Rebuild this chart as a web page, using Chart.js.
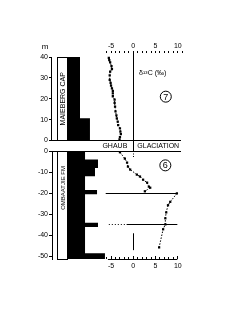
<!DOCTYPE html>
<html><head><meta charset="utf-8">
<script src="https://cdn.jsdelivr.net/npm/chart.js@4"></script>
<style>
html,body{margin:0;padding:0;background:#fff;width:240px;height:320px;overflow:hidden}
canvas{position:absolute;left:0;top:0}
</style></head><body>
<canvas id="up" width="240" height="320"></canvas>
<canvas id="lo" width="240" height="320"></canvas>
<script>
// ---------- DATA ----------
// Upper section (cap carbonate), depth in m, delta13C in permil
const upperDepth = [39.6, 38.5, 37.4, 35.6, 34.2, 33.0, 31.2, 29.0, 27.6, 26.3, 25.0, 23.8, 22.6, 21.2, 19.6, 18.0, 16.2, 14.0, 12.0, 10.6, 9.0, 7.4, 5.8, 4.3, 3.0, 1.6, 0.5];
const upperD13C  = [-5.5, -5.4, -5.2, -4.9, -4.8, -5.2, -5.3, -5.3, -5.1, -5.0, -4.8, -4.6, -4.6, -4.6, -4.2, -4.2, -4.1, -4.0, -3.8, -3.7, -3.5, -3.4, -3.0, -2.9, -2.8, -3.0, -3.1];
// Lower section (pre-glacial), two segments separated by a boundary
const lowerDepthA = [-0.6, -3.6, -5.5, -7.4, -8.8, -11.2, -12.1, -13.6, -15.0, -16.9, -17.4, -19.1];
const lowerD13CA  = [-3.0, -1.9, -1.4, -1.2, -0.7, 0.8, 1.5, 2.2, 3.1, 3.5, 3.8, 2.6];
const lowerDepthB = [-20.1, -24.1, -25.7, -29.1, -31.9, -34.8, -37.1, -45.7];
const lowerD13CB  = [9.8, 8.3, 7.8, 7.4, 7.2, 7.2, 6.7, 5.8];
// Lithology column: interval top, base, relative width
const upperLithTop   = [40, 10.6];
const upperLithBase  = [10.6, 0];
const upperLithWidth = [1.0, 1.83];
const lowerLithTop   = [0, -4, -8, -12, -18.5, -20.5, -34, -36, -48.5];
const lowerLithBase  = [-4, -8, -12, -18.5, -20.5, -34, -36, -48.5, -51.2];
const lowerLithWidth = [1.42, 2.5, 2.25, 1.42, 2.42, 1.42, 2.5, 1.42, 3.08];
// Axis ticks and labels
const upperDepthTicks = [0, 10, 20, 30, 40];
const lowerDepthTicks = [0, -10, -20, -30, -40, -50];
const d13cTickLabels = [-5, 0, 5, 10];
const d13cMinorTicks = [-6, -5, -4, -3, -2, -1, 0, 1, 2, 3, 4, 5, 6, 7, 8, 9, 10];
const boundaries = [-20, -35];
const formationNames = ['MAIEBERG CAP', 'OMBAATJIE FM'];
const bandLabels = ['GHAUB', 'GLACIATION'];
const sequenceLabels = ['7', '6'];
const depthUnit = 'm';
const isotopeLabel = 'δ¹³C (‰)';

// ---------- SETUP ----------
Chart.defaults.font.family = "'Liberation Sans', Arial, sans-serif";
Chart.defaults.font.size = 7;
Chart.defaults.color = '#000';
Chart.defaults.animation = false;
Chart.defaults.responsive = false;
Chart.defaults.devicePixelRatio = 1;
Chart.defaults.plugins.legend.display = false;
Chart.defaults.plugins.tooltip.enabled = false;

const X_MIN = -18.27, X_MAX = 10.72;     // delta13C scale range
const L_MIN = -1.333, L_MAX = 9.417;     // lithology width scale range

function pts(xs, ys) { return xs.map((v, i) => ({x: v, y: ys[i]})); }
function lithPolygon(tops, bases, widths) {
  const p = [{x: 0, y: tops[0]}];
  for (let i = 0; i < tops.length; i++) { p.push({x: widths[i], y: tops[i]}); p.push({x: widths[i], y: bases[i]}); }
  p.push({x: 0, y: bases[bases.length - 1]});
  return p;
}
function hline(ctx, y, x0, x1) { const yy = Math.floor(y) + 0.5; ctx.beginPath(); ctx.moveTo(x0, yy); ctx.lineTo(x1, yy); ctx.stroke(); }
function vline(ctx, x, y0, y1) { const xx = Math.floor(x) + 0.5; ctx.beginPath(); ctx.moveTo(xx, y0); ctx.lineTo(xx, y1); ctx.stroke(); }
function circled(ctx, t, cx, cy) {
  ctx.beginPath(); ctx.arc(cx, cy, 5.5, 0, Math.PI * 2); ctx.stroke();
  ctx.font = "9px 'Liberation Sans', Arial, sans-serif"; ctx.textAlign = 'center'; ctx.textBaseline = 'middle';
  ctx.fillText(t, cx, cy + 0.5);
}
function formationBox(ctx, xL, yTop, yBot, text, yText, size) {
  const bx0 = Math.floor(xL.getPixelForValue(-0.85)) + 0.5, bx1 = Math.floor(xL.getPixelForValue(0)) + 0.5;
  ctx.fillStyle = '#fff'; ctx.fillRect(bx0, yTop, bx1 - bx0, yBot - yTop);
  ctx.fillStyle = '#000';
  ctx.strokeRect(bx0, Math.floor(yTop) + 0.5, bx1 - bx0, Math.floor(yBot) - Math.floor(yTop));
  ctx.save();
  ctx.translate((bx0 + bx1) / 2 + 0.5, yText);
  ctx.rotate(-Math.PI / 2);
  ctx.font = size + "px 'Liberation Sans', Arial, sans-serif";
  ctx.textAlign = 'center'; ctx.textBaseline = 'middle';
  ctx.fillText(text, 0, 0);
  ctx.restore();
}
const lineStyle = {showLine: true, borderColor: '#000', borderWidth: 1, borderDash: [1.5, 1.5], pointStyle: 'rect', pointRadius: 1.6, pointBackgroundColor: '#000', pointBorderWidth: 0, fill: false};
const lithStyle = {showLine: true, fill: 'shape', backgroundColor: '#000', borderColor: '#000', borderWidth: 0, pointRadius: 0, xAxisID: 'xL'};
const xTickCallback = v => d13cTickLabels.includes(v) ? String(v) : '';

// ---------- UPPER PANEL ----------
const upperDeco = {
  id: 'upperDeco',
  afterDatasetsDraw(chart) {
    const {ctx, chartArea: a, scales: {x, y, xL}} = chart;
    ctx.save();
    ctx.strokeStyle = '#000'; ctx.fillStyle = '#000'; ctx.lineWidth = 1;
    const yTop = y.getPixelForValue(upperDepthTicks[upperDepthTicks.length - 1]);
    const y0 = y.getPixelForValue(0);
    formationBox(ctx, xL, yTop, y0, formationNames[0], (yTop + y0) / 2, 7);
    vline(ctx, a.left - 1, yTop, y0);
    hline(ctx, y0, a.left - 1, a.right);
    vline(ctx, x.getPixelForValue(0), a.top, y0);
    ctx.font = "8px 'Liberation Sans', Arial, sans-serif"; ctx.textAlign = 'center'; ctx.textBaseline = 'middle';
    ctx.fillText(depthUnit, a.left - 7, yTop - 10);
    ctx.font = "7px 'Liberation Sans', Arial, sans-serif"; ctx.textAlign = 'left';
    ctx.fillText(isotopeLabel, x.getPixelForValue(1.3), y.getPixelForValue(32.5));
    circled(ctx, sequenceLabels[0], x.getPixelForValue(7.3), y.getPixelForValue(21));
    ctx.restore();
  }
};
new Chart(document.getElementById('up'), {
  type: 'scatter',
  data: {datasets: [
    Object.assign({data: lithPolygon(upperLithTop, upperLithBase, upperLithWidth)}, lithStyle),
    Object.assign({data: pts(upperD13C, upperDepth)}, lineStyle)
  ]},
  options: {
    layout: {padding: {left: 30, right: 59, top: 43, bottom: 179.5}},
    scales: {
      x: {type: 'linear', position: 'top', min: X_MIN, max: X_MAX,
          afterBuildTicks: s => { s.ticks = d13cMinorTicks.concat([11]).map(v => ({value: v})); },
          ticks: {callback: xTickCallback, autoSkip: false, maxRotation: 0, padding: 1},
          grid: {drawOnChartArea: false, tickLength: 2, tickColor: '#000'},
          border: {display: false},
          afterFit: s => { s.height = 10; }},
      y: {type: 'linear', min: 0, max: 41.92,
          afterBuildTicks: s => { s.ticks = upperDepthTicks.map(v => ({value: v})); },
          ticks: {padding: 1},
          grid: {drawOnChartArea: false, tickLength: 3, tickColor: '#000'},
          border: {display: false},
          afterFit: s => { s.width = 22; }},
      xL: {type: 'linear', display: false, min: L_MIN, max: L_MAX}
    }
  },
  plugins: [upperDeco]
});

// ---------- LOWER PANEL ----------
const lowerDeco = {
  id: 'lowerDeco',
  afterDatasetsDraw(chart) {
    const {ctx, chartArea: a, scales: {x, y, xL}} = chart;
    ctx.save();
    ctx.strokeStyle = '#000'; ctx.fillStyle = '#000'; ctx.lineWidth = 1;
    const y0 = y.getPixelForValue(0);
    formationBox(ctx, xL, y0, a.bottom, formationNames[1], y.getPixelForValue(-17.5), 6);
    hline(ctx, y0, a.left - 1, a.right);
    // glaciation band above the panel
    const x0 = x.getPixelForValue(0);
    vline(ctx, x0, y0 - 10, y0);
    ctx.font = "7px 'Liberation Sans', Arial, sans-serif"; ctx.textBaseline = 'middle';
    ctx.textAlign = 'right'; ctx.fillText(bandLabels[0], x0 - 6, y0 - 5);
    ctx.textAlign = 'left'; ctx.fillText(bandLabels[1], x0 + 4, y0 - 5);
    // zero line fragments
    ctx.setLineDash([1, 1.5]); vline(ctx, x0, y0, y.getPixelForValue(-3)); ctx.setLineDash([]);
    vline(ctx, x0, y.getPixelForValue(-39), y.getPixelForValue(-47));
    // sequence boundaries
    hline(ctx, y.getPixelForValue(boundaries[0]), x.getPixelForValue(-6.2), x.getPixelForValue(9.9));
    hline(ctx, y.getPixelForValue(boundaries[1]), x.getPixelForValue(-1.5), x.getPixelForValue(9.9));
    ctx.setLineDash([1, 2]);
    hline(ctx, y.getPixelForValue(boundaries[1]), x.getPixelForValue(-5.5), x.getPixelForValue(-1.8));
    ctx.setLineDash([]);
    // bottom axis line + upward ticks
    hline(ctx, a.bottom, x.getPixelForValue(-5.7), x.getPixelForValue(9.9));
    x.ticks.forEach(t => {
      const px = x.getPixelForValue(t.value);
      vline(ctx, px, a.bottom - (d13cTickLabels.includes(t.value) ? 3 : 2), a.bottom);
    });
    circled(ctx, sequenceLabels[1], x.getPixelForValue(7.2), y.getPixelForValue(-6.8));
    ctx.restore();
  }
};
new Chart(document.getElementById('lo'), {
  type: 'scatter',
  data: {datasets: [
    Object.assign({data: lithPolygon(lowerLithTop, lowerLithBase, lowerLithWidth)}, lithStyle),
    Object.assign({data: pts(lowerD13CA, lowerDepthA)}, lineStyle),
    Object.assign({data: pts(lowerD13CB, lowerDepthB)}, lineStyle)
  ]},
  options: {
    layout: {padding: {left: 30, right: 59, top: 151, bottom: 41}},
    scales: {
      x: {type: 'linear', position: 'bottom', min: X_MIN, max: X_MAX,
          afterBuildTicks: s => { s.ticks = d13cMinorTicks.map(v => ({value: v})); },
          ticks: {callback: xTickCallback, autoSkip: false, maxRotation: 0, padding: 3},
          grid: {drawOnChartArea: false, drawTicks: false},
          border: {display: false},
          afterFit: s => { s.height = 20; }},
      y: {type: 'linear', min: -51.2, max: 0,
          afterBuildTicks: s => { s.ticks = lowerDepthTicks.map(v => ({value: v})); },
          ticks: {padding: 1},
          grid: {drawOnChartArea: false, tickLength: 3, tickColor: '#000'},
          border: {display: true, color: '#000', width: 1},
          afterFit: s => { s.width = 22; }},
      xL: {type: 'linear', display: false, min: L_MIN, max: L_MAX}
    }
  },
  plugins: [lowerDeco]
});
</script>
</body></html>
